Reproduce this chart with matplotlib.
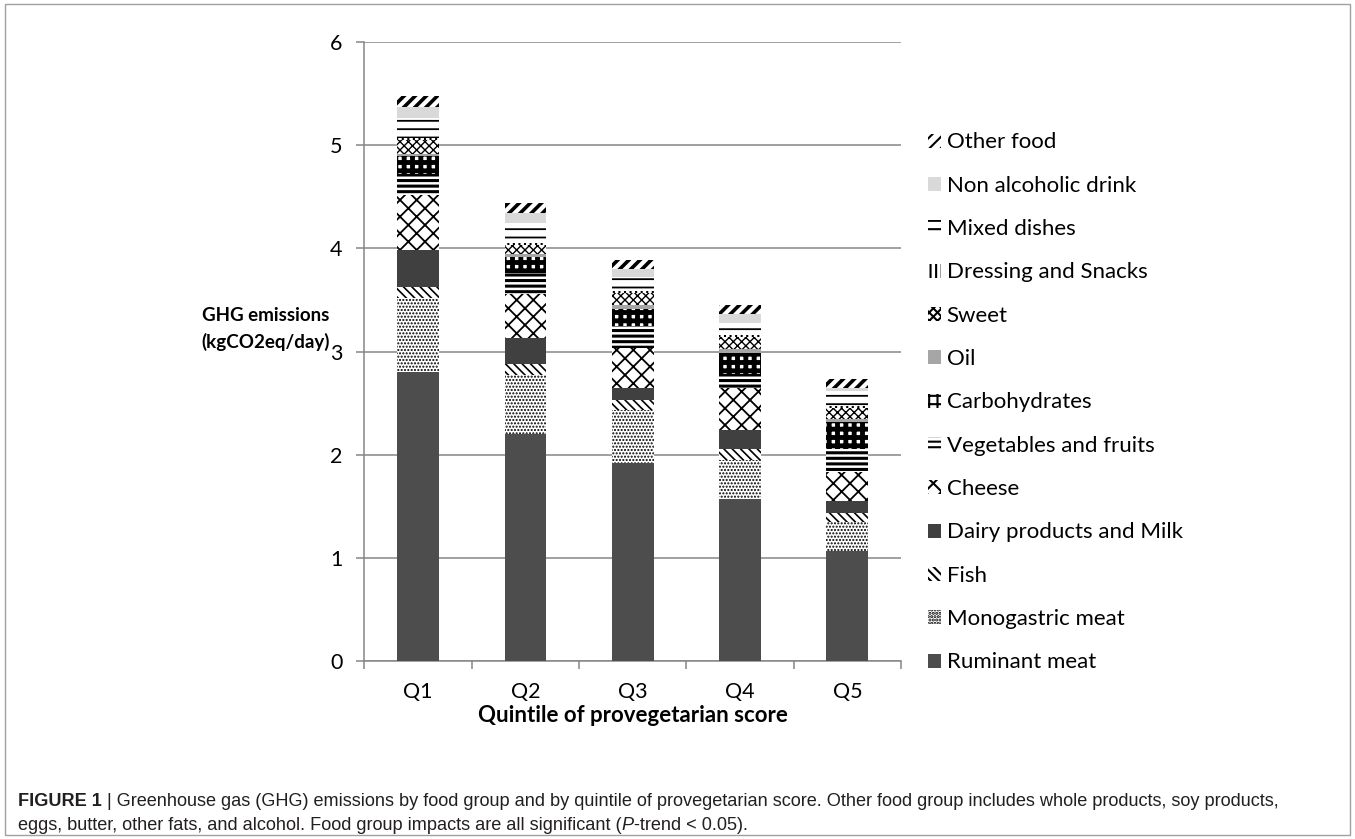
import matplotlib
matplotlib.use("Agg")
import matplotlib.pyplot as plt
import numpy as np
from matplotlib.patches import Patch, Rectangle

quintiles = ["Q1", "Q2", "Q3", "Q4", "Q5"]

# food groups, bottom to top of each stack
groups = [
    "Ruminant meat",
    "Monogastric meat",
    "Fish",
    "Dairy products and Milk",
    "Cheese",
    "Vegetables and fruits",
    "Carbohydrates",
    "Oil",
    "Sweet",
    "Dressing and Snacks",
    "Mixed dishes",
    "Non alcoholic drink",
    "Other food",
]

# kgCO2eq/day per quintile (Q1..Q5)
ruminant_meat = [2.80, 2.20, 1.92, 1.57, 1.07]
monogastric_meat = [0.72, 0.57, 0.51, 0.38, 0.28]
fish = [0.11, 0.11, 0.10, 0.11, 0.09]
dairy_milk = [0.35, 0.25, 0.12, 0.18, 0.11]
cheese = [0.54, 0.43, 0.38, 0.41, 0.28]
veg_fruits = [0.20, 0.20, 0.22, 0.13, 0.23]
carbohydrates = [0.17, 0.16, 0.16, 0.21, 0.26]
oil = [0.02, 0.03, 0.04, 0.03, 0.03]
sweet = [0.14, 0.08, 0.12, 0.12, 0.10]
dressing_snacks = [0.02, 0.02, 0.02, 0.02, 0.02]
mixed_dishes = [0.19, 0.20, 0.13, 0.12, 0.15]
non_alcoholic = [0.11, 0.09, 0.08, 0.08, 0.03]
other_food = [0.11, 0.10, 0.09, 0.09, 0.08]

series = [
    ruminant_meat, monogastric_meat, fish, dairy_milk, cheese, veg_fruits,
    carbohydrates, oil, sweet, dressing_snacks, mixed_dishes, non_alcoholic,
    other_food,
]

# (facecolor, hatch, hatch linewidth) per group
styles = [
    ("#4d4d4d", None, 1.0),
    ("white", ".....", 1.0),
    ("white", "\\\\\\\\", 1.2),
    ("#404040", None, 1.0),
    ("white", "xx", 1.3),
    ("white", "---", 2.2),
    ("white", "++", 3.5),
    ("#a6a6a6", None, 1.0),
    ("white", "xxxx", 1.0),
    ("white", "|||", 1.5),
    ("white", "--", 1.3),
    ("#d9d9d9", None, 1.0),
    ("white", "///", 2.6),
]

GRID = "#868686"
CHART_FONT = ["Lato", "DejaVu Sans"]
CAPTION_FONT = ["Liberation Sans", "DejaVu Sans"]

plt.rcParams["font.family"] = CHART_FONT
plt.rcParams["hatch.linewidth"] = 1.5


def set_hatch_width(patch, width):
    if hasattr(patch, "set_hatch_linewidth"):
        patch.set_hatch_linewidth(width)


fig = plt.figure(figsize=(13.55, 8.39), dpi=100)
ax = fig.add_axes([0.269, 0.212, 0.396, 0.738])

x = np.arange(len(quintiles))
bottom = np.zeros(len(quintiles))
for vals, (color, hatch, hlw) in zip(series, styles):
    bars = ax.bar(x, vals, width=0.39, bottom=bottom, color=color, hatch=hatch,
                  edgecolor="black", linewidth=0, zorder=3)
    for b in bars:
        set_hatch_width(b, hlw)
    bottom += np.array(vals)

ax.set_xlim(-0.5, len(quintiles) - 0.5)
ax.set_ylim(0, 6)
ax.set_yticks(range(0, 7))
ax.yaxis.grid(True, color=GRID, linewidth=1.1, zorder=0)
ax.set_xticks(x)
ax.set_xticklabels(quintiles, fontsize=15.5)
ax.tick_params(axis="x", length=0, pad=15)
ax.set_xticks(np.arange(-0.5, len(quintiles)), minor=True)
ax.tick_params(axis="x", which="minor", length=6, color=GRID, width=1.1)
ax.tick_params(axis="y", labelsize=15.5, length=6, color=GRID, width=1.1, pad=10)

for side in ("top", "right"):
    ax.spines[side].set_visible(False)
for side in ("left", "bottom"):
    ax.spines[side].set_color(GRID)
    ax.spines[side].set_linewidth(1.1)

ax.set_xlabel("Quintile of provegetarian score", fontsize=16,
              fontweight="bold", labelpad=2)
fig.text(0.196, 0.608, "GHG emissions\n(kgCO2eq/day)", fontsize=13.5,
         fontweight="bold", ha="center", va="center", linespacing=1.6)

handles = []
for g, (c, h, hlw) in zip(groups, styles):
    p = Patch(facecolor=c, hatch=h, edgecolor="black", linewidth=0, label=g)
    set_hatch_width(p, min(hlw, 2.0))
    handles.append(p)
fig.legend(handles[::-1], groups[::-1], loc="upper left",
           bbox_to_anchor=(0.670, 0.866), frameon=False, fontsize=16,
           handlelength=0.6, handleheight=0.6, handletextpad=0.25,
           labelspacing=1.05)

# outer frame around figure and caption
fig.patches.append(Rectangle((0.004, 0.005), 0.992, 0.99, transform=fig.transFigure,
                             fill=False, edgecolor="#a0a0a0", linewidth=1.0))


def chained_text(parts, x0, y0, size=13.1):
    renderer = fig.canvas.get_renderer()
    xpos = x0
    for txt, kw in parts:
        t = fig.text(xpos, y0, txt, fontsize=size, family=CAPTION_FONT,
                     color="#231f20", va="baseline", **kw)
        bb = t.get_window_extent(renderer=renderer)
        xpos = bb.x1 / fig.bbox.width


chained_text([
    ("FIGURE 1", {"fontweight": "bold"}),
    (" | Greenhouse gas (GHG) emissions by food group and by quintile of provegetarian score. "
     "Other food group includes whole products, soy products,", {}),
], 0.0135, 0.039)
chained_text([
    ("eggs, butter, other fats, and alcohol. Food group impacts are all significant (", {}),
    ("P", {"style": "italic"}),
    ("-trend < 0.05).", {}),
], 0.0135, 0.011)

fig.savefig("out.png", dpi=100)
